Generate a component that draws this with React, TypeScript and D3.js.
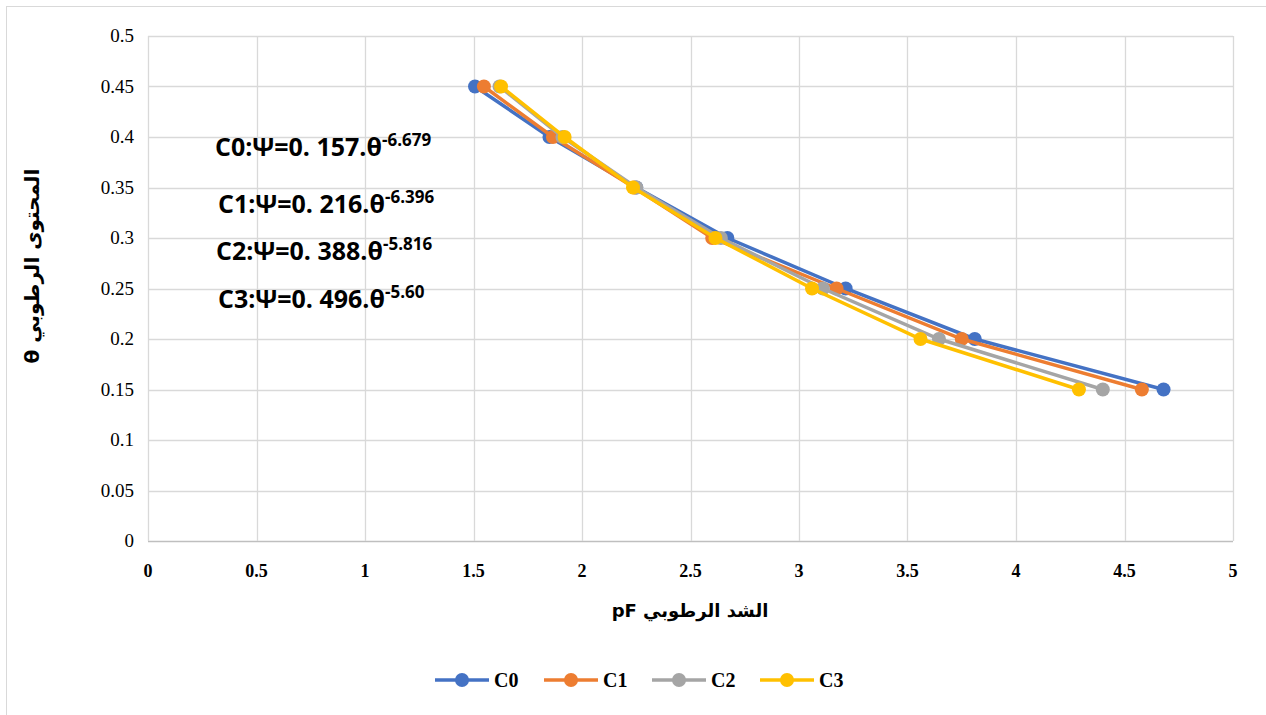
import React from "react";
import * as d3 from "d3";

const seriesNames = ["C0", "C1", "C2", "C3"];
const seriesColors = ["#4472C4", "#ED7D31", "#A5A5A5", "#FFC000"];
const thetaValues = [0.45, 0.4, 0.35, 0.3, 0.25, 0.2, 0.15];
const pfC0 = [1.507, 1.85, 2.25, 2.67, 3.215, 3.81, 4.68];
const pfC1 = [1.548, 1.866, 2.24, 2.6, 3.173, 3.75, 4.58];
const pfC2 = [1.62, 1.91, 2.25, 2.64, 3.11, 3.645, 4.4];
const pfC3 = [1.627, 1.92, 2.235, 2.615, 3.06, 3.56, 4.29];
const seriesPf = [pfC0, pfC1, pfC2, pfC3];
const xTicks = [0, 0.5, 1, 1.5, 2, 2.5, 3, 3.5, 4, 4.5, 5];
const yTicks = [0, 0.05, 0.1, 0.15, 0.2, 0.25, 0.3, 0.35, 0.4, 0.45, 0.5];
const equationLabels = ["C0:Ψ=0. 157.θ", "C1:Ψ=0. 216.θ", "C2:Ψ=0. 388.θ", "C3:Ψ=0. 496.θ"];
const equationExponents = ["-6.679", "-6.396", "-5.816", "-5.60"];
const xTitle = "الشد الرطوبي pF";
const yTitle = "المحتوى الرطوبي θ";

export default function App() {
  const W = 1266, H = 715;
  const x = d3.scaleLinear().domain([0, 5]).range([148, 1233]);
  const y = d3.scaleLinear().domain([0, 0.5]).range([541, 36]);
  const line = d3
    .line<[number, number]>()
    .x((d) => x(d[0]))
    .y((d) => y(d[1]));
  const eqX = [215, 218, 216, 218];
  const eqY = [156, 213, 260, 308];
  const legendX = [435, 544, 652, 760];

  return (
    <svg width={W} height={H} style={{ position: "absolute", left: 0, top: 0, background: "#fff" }}>
      <rect x={6.5} y={6.5} width={W + 10} height={H + 10} fill="#fff" stroke="#D9D9D9" strokeWidth={1} />
      {yTicks.map((t) => (
        <line key={"gy" + t} x1={x(0)} x2={x(5)} y1={Math.round(y(t)) + 0.5} y2={Math.round(y(t)) + 0.5}
          stroke={t === 0 ? "#BFBFBF" : "#D9D9D9"} strokeWidth={t === 0 ? 1.5 : 1.3} />
      ))}
      {xTicks.map((t) => (
        <line key={"gx" + t} y1={y(0)} y2={y(0.5)} x1={Math.round(x(t)) + 0.5} x2={Math.round(x(t)) + 0.5}
          stroke="#D9D9D9" strokeWidth={1.3} />
      ))}
      {yTicks.map((t) => (
        <text key={"ty" + t} x={134} y={y(t) + 6} textAnchor="end"
          fontFamily="'Liberation Serif', 'Times New Roman', serif" fontSize={19} fill="#000">
          {String(t)}
        </text>
      ))}
      {xTicks.map((t) => (
        <text key={"tx" + t} x={x(t)} y={577} textAnchor="middle"
          fontFamily="'Liberation Serif', 'Times New Roman', serif" fontWeight="bold" fontSize={18} fill="#000">
          {String(t)}
        </text>
      ))}
      {seriesPf.map((pf, i) => {
        const pts: [number, number][] = pf.map((v, j) => [v, thetaValues[j]]);
        return (
          <g key={seriesNames[i]}>
            <path d={line(pts) || ""} fill="none" stroke={seriesColors[i]} strokeWidth={3.5} />
            {pts.map((p, j) => (
              <circle key={j} cx={x(p[0])} cy={y(p[1])} r={7} fill={seriesColors[i]} />
            ))}
          </g>
        );
      })}
      {equationLabels.map((lab, i) => (
        <text key={lab} x={eqX[i]} y={eqY[i]} fontFamily="'Open Sans', sans-serif" fontWeight="bold" fontSize={25} fill="#000">
          {lab}
          <tspan dy={-10} fontSize={17}>{equationExponents[i]}</tspan>
        </text>
      ))}
      <text x={690} y={617} textAnchor="middle" direction="rtl" style={{ direction: "rtl", unicodeBidi: "embed" }}
        fontFamily="'DejaVu Sans', sans-serif" fontWeight="bold" fontSize={18} fill="#000">
        {xTitle}
      </text>
      <text transform="translate(39,266) rotate(-90)" textAnchor="middle" direction="rtl" style={{ direction: "rtl", unicodeBidi: "embed" }}
        fontFamily="'DejaVu Sans', sans-serif" fontWeight="bold" fontSize={20} fill="#000">
        {yTitle}
      </text>
      {seriesNames.map((n, i) => (
        <g key={"lg" + n}>
          <line x1={legendX[i]} x2={legendX[i] + 54} y1={680} y2={680} stroke={seriesColors[i]} strokeWidth={3.5} />
          <circle cx={legendX[i] + 27} cy={680} r={7} fill={seriesColors[i]} />
          <text x={legendX[i] + 59} y={687} fontFamily="'Liberation Serif', 'Times New Roman', serif" fontWeight="bold" fontSize={20} fill="#000">
            {n}
          </text>
        </g>
      ))}
    </svg>
  );
}
